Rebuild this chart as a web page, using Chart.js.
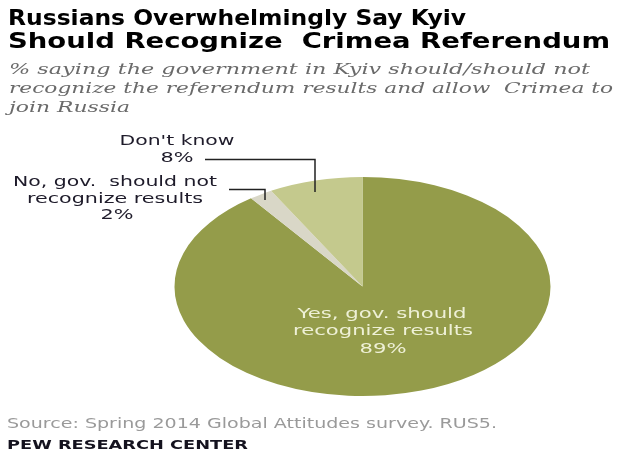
<!DOCTYPE html>
<html>
<head>
<meta charset="utf-8">
<script src="https://cdn.jsdelivr.net/npm/chart.js@4.4.1/dist/chart.umd.min.js"></script>
<style>
  html, body { margin: 0; padding: 0; background: #fff; }
  #wrap { width: 617px; height: 452px; }
</style>
</head>
<body>
<div id="wrap"><canvas id="myChart" width="617" height="452"></canvas></div>
<script>
// data
var categories = ['Yes, gov. should recognize results', 'No, gov. should not recognize results', "Don't know"];
var values = [89, 2, 8];
var colors = ['#949c4a', '#d9d7c7', '#c4c98d'];

// the original picture is stretched sideways, so the pie is an ellipse
var stretchX = 1.717;

// write text squeezed or widened to a given width
function fitText(ctx, text, x, y, width, align) {
    var w = ctx.measureText(text).width;
    var sx = width / w;
    ctx.save();
    var left = align === 'center' ? x - width / 2 : x;
    ctx.translate(left, y);
    ctx.scale(sx, 1);
    ctx.textAlign = 'left';
    ctx.fillText(text, 0, 0);
    ctx.restore();
}

var ellipsePlugin = {
    id: 'ellipse',
    beforeDatasetsDraw: function(chart) {
        var arc = chart.getDatasetMeta(0).data[0];
        var ctx = chart.ctx;
        ctx.save();
        ctx.translate(arc.x, arc.y);
        ctx.scale(stretchX, 1);
        ctx.translate(-arc.x, -arc.y);
    },
    afterDatasetsDraw: function(chart) {
        chart.ctx.restore();
    }
};

var textPlugin = {
    id: 'texts',
    afterDraw: function(chart) {
        var ctx = chart.ctx;
        ctx.save();
        ctx.textBaseline = 'alphabetic';

        // title
        ctx.fillStyle = '#000';
        ctx.font = 'bold 21px "DejaVu Sans"';
        fitText(ctx, 'Russians Overwhelmingly Say Kyiv', 8, 25, 458, 'left');
        fitText(ctx, 'Should Recognize  Crimea Referendum', 8, 48, 602, 'left');

        // subtitle
        ctx.fillStyle = '#6a6a6a';
        ctx.font = 'italic 15px "DejaVu Serif"';
        fitText(ctx, '% saying the government in Kyiv should/should not', 9, 74, 581, 'left');
        fitText(ctx, 'recognize the referendum results and allow  Crimea to', 9, 93, 604, 'left');
        fitText(ctx, 'join Russia', 9, 112, 121, 'left');

        // slice labels
        ctx.fillStyle = '#1e1b2a';
        ctx.font = '14px "DejaVu Sans"';
        fitText(ctx, "Don't know", 177, 145, 115, 'center');
        fitText(ctx, values[2] + '%', 177, 162, 33, 'center');
        fitText(ctx, 'No, gov.  should not', 115, 186, 204, 'center');
        fitText(ctx, 'recognize results', 115, 203, 176, 'center');
        fitText(ctx, values[1] + '%', 117, 219, 33, 'center');

        ctx.fillStyle = '#eef0d6';
        fitText(ctx, 'Yes, gov. should', 382, 318, 169, 'center');
        fitText(ctx, 'recognize results', 383, 335, 180, 'center');
        fitText(ctx, values[0] + '%', 383, 353, 47, 'center');

        // leader lines
        ctx.strokeStyle = '#222';
        ctx.lineWidth = 1.5;
        ctx.beginPath();
        ctx.moveTo(205, 159.5);
        ctx.lineTo(315, 159.5);
        ctx.lineTo(315, 192);
        ctx.moveTo(229, 189.5);
        ctx.lineTo(265, 189.5);
        ctx.lineTo(265, 200);
        ctx.stroke();

        // footer
        ctx.fillStyle = '#9a9a9a';
        ctx.font = '14px "DejaVu Sans"';
        fitText(ctx, 'Source: Spring 2014 Global Attitudes survey. RUS5.', 7, 428, 490, 'left');
        ctx.fillStyle = '#14121e';
        ctx.font = 'bold 12px "DejaVu Sans"';
        fitText(ctx, 'PEW RESEARCH CENTER', 7, 449, 241, 'left');

        ctx.restore();
    }
};

var ctx = document.getElementById('myChart').getContext('2d');
var myChart = new Chart(ctx, {
    type: 'pie',
    data: {
        labels: categories,
        datasets: [{
            data: values,
            backgroundColor: colors,
            borderWidth: 0
        }]
    },
    options: {
        responsive: false,
        animation: false,
        layout: {
            padding: { top: 177, bottom: 56, left: 253, right: 145 }
        },
        plugins: {
            legend: { display: false },
            tooltip: { enabled: false }
        }
    },
    plugins: [ellipsePlugin, textPlugin]
});
</script>
</body>
</html>
